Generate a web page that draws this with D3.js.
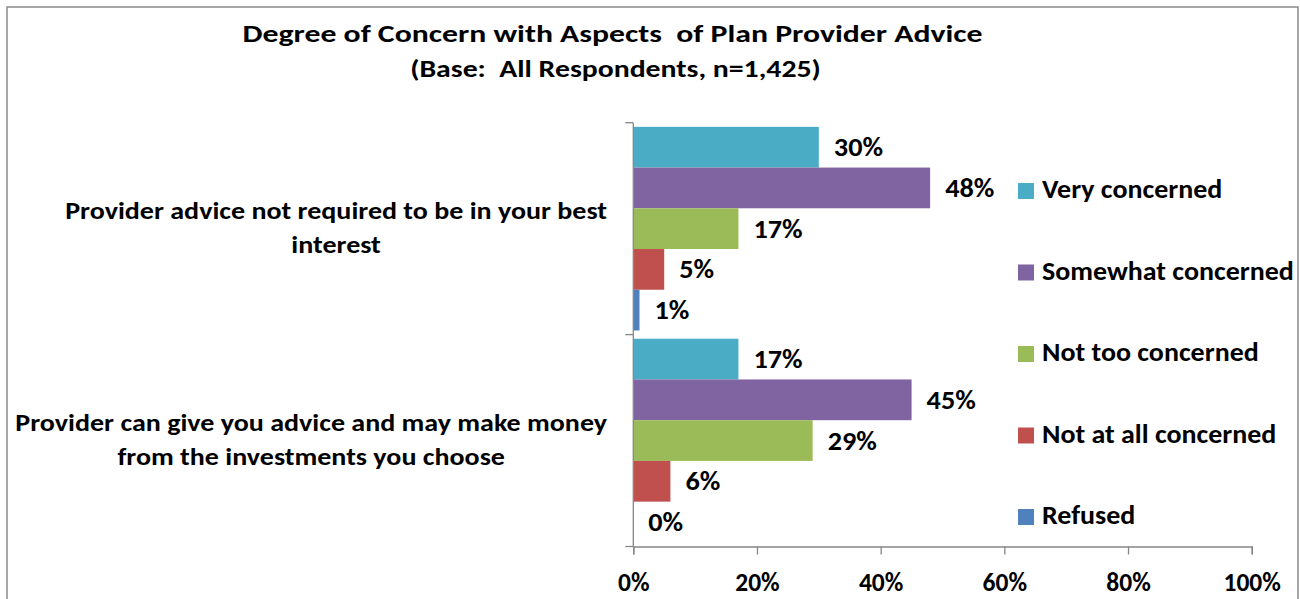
<!DOCTYPE html>
<html>
<head>
<meta charset="utf-8">
<script src="https://cdn.jsdelivr.net/npm/d3@7"></script>
<style>
  html, body { margin: 0; padding: 0; background: #ffffff; }
  svg { display: block; }
  text { font-family: Carlito, Calibri, Lato, sans-serif; font-weight: 700; fill: #000; }
</style>
</head>
<body>
<svg id="chart" width="1300" height="599"></svg>
<script>
// Survey categories (each label split into its display lines)
const categories = [
  "Provider advice not required to be in your best interest",
  "Provider can give you advice and may make money from the investments you choose"
];
const categoryLines = [
  ["Provider advice not required to be in your best", "interest"],
  ["Provider can give you advice and may make money", "from the investments you choose"]
];
// Response series, top to bottom within each category
const seriesNames = ["Very concerned", "Somewhat concerned", "Not too concerned", "Not at all concerned", "Refused"];
const seriesColors = ["#4BACC6", "#8064A2", "#9BBB59", "#C0504D", "#4F81BD"];
// Percent values, one row per category, in series order
const valuesAdviceNotBestInterest = [30, 48, 17, 5, 1];
const valuesProviderMakesMoney = [17, 45, 29, 6, 0];
const values = [valuesAdviceNotBestInterest, valuesProviderMakesMoney];
const xTicks = [0, 20, 40, 60, 80, 100];

const titleText = "Degree of Concern with Aspects  of Plan Provider Advice";
const subtitleText = "(Base:  All Respondents, n=1,425)";

const svg = d3.select("#chart");

// text helper: places a label at (x, y) with a horizontal stretch factor
function label(parent, x, y, str, size, sx, anchor) {
  return parent.append("text")
    .attr("transform", `translate(${x},${y}) scale(${sx},1)`)
    .attr("text-anchor", anchor || "start")
    .style("font-size", size + "px")
    .style("white-space", "pre")
    .text(str);
}

// chart frame
svg.append("rect")
  .attr("x", 7).attr("y", 7)
  .attr("width", 1291).attr("height", 620)
  .attr("fill", "none").attr("stroke", "#8a8a8a").attr("stroke-width", 1.5);

// titles
label(svg, 612.5, 42, titleText, 25, 1.27, "middle");
label(svg, 615.5, 77, subtitleText, 24, 1.24, "middle");

// plot area
const plot = { left: 633.3, right: 1251.7, top: 122.7, bottom: 546.5 };

const x = d3.scaleLinear().domain([0, 100]).range([plot.left, plot.right]);
const y0 = d3.scaleBand().domain(categories).range([plot.top, plot.bottom])
  .paddingInner(0.039).paddingOuter(0.0195);
const y1 = d3.scaleBand().domain(seriesNames).range([0, y0.bandwidth()]);

// bars with value labels
const groups = svg.append("g").selectAll("g")
  .data(categories)
  .join("g")
  .attr("transform", d => `translate(0,${y0(d)})`);

groups.each(function (cat, ci) {
  const g = d3.select(this);
  const rows = seriesNames.map((s, si) => ({ s, si, v: values[ci][si] }));
  g.selectAll("rect")
    .data(rows)
    .join("rect")
    .attr("x", x(0))
    .attr("y", d => y1(d.s))
    .attr("width", d => x(d.v) - x(0))
    .attr("height", y1.bandwidth())
    .attr("fill", d => seriesColors[d.si])
    .attr("stroke", d => d.v === 0 ? seriesColors[d.si] : "none")
    .attr("stroke-width", 0.8);
  rows.forEach(d => {
    label(g, x(d.v) + 15, y1(d.s) + y1.bandwidth() / 2 + 9, d.v + "%", 26.4, 1.07);
  });
});

// x axis
const xAxis = d3.axisBottom(x)
  .tickValues(xTicks)
  .tickFormat(d => d + "%")
  .tickSize(8)
  .tickPadding(18);
const gx = svg.append("g")
  .attr("transform", `translate(0,${plot.bottom})`)
  .call(xAxis);
gx.select(".domain").attr("stroke", "#868686").attr("stroke-width", 1.3);
gx.selectAll(".tick line").attr("stroke", "#868686").attr("stroke-width", 1.3);
gx.selectAll(".tick text")
  .style("font-size", "25.5px")
  .style("font-family", "Carlito, Calibri, Lato, sans-serif")
  .style("font-weight", 700)
  .attr("fill", "#000");

// y axis: line with boundary ticks between categories
const yAxisLine = svg.append("g");
yAxisLine.append("line")
  .attr("x1", plot.left).attr("x2", plot.left)
  .attr("y1", plot.top).attr("y2", plot.bottom)
  .attr("stroke", "#868686").attr("stroke-width", 1.3);
const boundaries = [plot.top, (y0(categories[0]) + y0.bandwidth() + y0(categories[1])) / 2, plot.bottom];
yAxisLine.selectAll("line.tk")
  .data(boundaries)
  .join("line")
  .attr("class", "tk")
  .attr("x1", plot.left - 8).attr("x2", plot.left)
  .attr("y1", d => d).attr("y2", d => d)
  .attr("stroke", "#868686").attr("stroke-width", 1.3);

// category labels: centered lines, block right-aligned near the axis
const labelRight = 607;
const catSize = 24.8, catStretch = 1.13;
categories.forEach((cat, ci) => {
  const cy = y0(cat) + y0.bandwidth() / 2;
  const g = svg.append("g");
  const texts = categoryLines[ci].map((line, li) =>
    label(g, 0, cy - 10 + li * 34.5, line, catSize, catStretch, "middle")
  );
  const widest = d3.max(texts, t => t.node().getComputedTextLength()) * catStretch;
  texts.forEach((t, li) =>
    t.attr("transform", `translate(${labelRight - widest / 2},${cy - 10 + li * 34.5}) scale(${catStretch},1)`)
  );
});

// legend
const legend = svg.append("g");
seriesNames.forEach((s, i) => {
  const by = 198 + i * 81.5;
  legend.append("rect")
    .attr("x", 1018).attr("y", by - 15)
    .attr("width", 16).attr("height", 16)
    .attr("fill", seriesColors[i]);
  label(legend, 1042, by, s, 26.4, 1.06);
});
</script>
</body>
</html>
